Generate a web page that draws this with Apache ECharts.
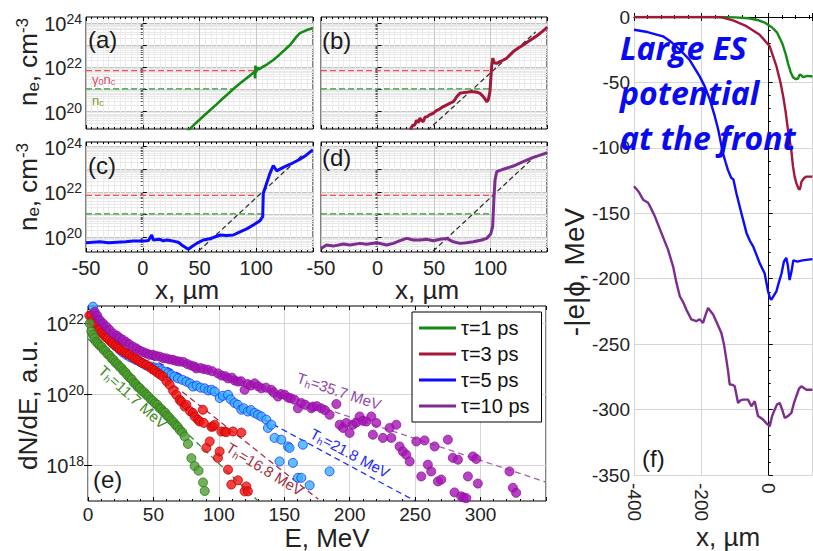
<!DOCTYPE html>
<html>
<head>
<meta charset="utf-8">
<script src="https://cdn.jsdelivr.net/npm/echarts@6/dist/echarts.min.js"></script>
<style>
html, body { margin: 0; padding: 0; background: #fff; }
#chart { width: 813px; height: 551px; }
</style>
</head>
<body>
<div id="chart"></div>
<script>
// (a)-(d): electron density profiles, x in um, value = log10(n_e / cm^-3)
const neA = [[38,19.05],[42,19.25],[46,19.45],[50,19.64],[55,19.87],[60,20.1],[65,20.33],[70,20.57],[75,20.8],[80,21.03],[85,21.25],[90,21.45],[95,21.65],[98.5,21.8],[99,21.5],[99.3,22.08],[99.8,21.78],[100.5,21.86],[101.5,22.02],[102,21.9],[105,22.0],[110,22.15],[115,22.33],[120,22.55],[125,22.78],[130,23.02],[135,23.35],[138.5,23.54],[144,23.67],[150,23.77]];
const neB = [[29,19.2],[31,19.38],[33,19.4],[34.5,19.62],[36,19.5],[37.6,19.71],[39,19.6],[40.5,19.55],[42,19.75],[44,19.78],[46,19.86],[49.4,19.93],[52,20.05],[55,20.12],[58.2,20.23],[61,20.3],[64,20.38],[67.1,20.45],[69,20.58],[70.1,20.68],[73,20.83],[76,20.86],[79,20.88],[81.9,20.9],[85,20.9],[88,20.88],[90.7,20.83],[93.6,20.68],[95.5,20.55],[96.6,20.45],[98,20.53],[99.5,20.9],[101,22.03],[102,22.41],[103.5,22.2],[105.5,22.18],[108.4,22.26],[111,22.32],[114.3,22.41],[117,22.55],[120.2,22.71],[125,22.88],[129,23.01],[133,23.15],[137.9,23.31],[142,23.46],[146,23.62],[150.3,23.81]];
const neC = [[-50,19.76],[-44,19.78],[-37.7,19.8],[-30,19.76],[-23,19.78],[-15,19.8],[-8.3,19.83],[0.5,19.83],[5,19.86],[7.9,20.1],[9.3,19.88],[15.2,19.91],[18,19.84],[21.1,19.88],[24,19.86],[26.9,19.83],[31.3,19.78],[35.7,19.61],[40.1,19.47],[43.1,19.58],[47.5,19.73],[53.3,19.88],[58,19.92],[62.2,19.99],[68.1,20.1],[74,20.08],[79.8,20.1],[85.7,20.24],[92,20.38],[97.4,20.54],[103.3,20.73],[105.7,20.91],[106.2,21.94],[107.7,22.16],[112.1,22.82],[115,23.16],[118,22.93],[123.8,23.08],[130,23.22],[138.5,23.44],[144,23.62],[149.7,23.85]];
const neD = [[-50,19.51],[-45,19.66],[-39.1,19.61],[-30.3,19.7],[-24.3,19.66],[-15.5,19.73],[-9.6,19.69],[-0.7,19.76],[8.1,19.66],[14,19.73],[19.9,19.85],[25.8,19.95],[31.7,19.88],[37.6,19.88],[43.5,19.91],[49.4,19.85],[55.3,19.91],[61.2,19.95],[67.1,19.8],[73,19.73],[78.9,19.76],[84.8,19.8],[92.2,19.88],[96.6,19.95],[100.2,20.14],[101.9,20.47],[103.1,21.79],[104,22.52],[105.5,22.89],[111.4,23.0],[120.2,23.14],[129,23.33],[137.9,23.52],[144,23.62],[150.3,23.73]];
const refProfile = [[44,19.15],[140,23.6]];
const gammaNc = 21.85;
const nc = 21.03;
// x where the dashed gamma0*nc and nc lines stop, panels a-d
const critEnds = [[99,80],[100,100],[101,106],[103,101]];

// (e): spectra, E in MeV, value = log10(dN/dE)
const spec1 = [[1.3,21.98],[2.5,21.76],[3.8,21.66],[5,21.57],[6.3,21.47],[7.6,21.42],[9,21.36],[10.5,21.32],[12,21.24],[13.5,21.2],[15,21.12],[16.6,21.08],[18,21.0],[19.5,20.96],[21,20.88],[22.6,20.84],[24,20.77],[25.6,20.73],[27,20.65],[28.6,20.61],[30,20.53],[31.9,20.46],[33.5,20.41],[35,20.32],[36.6,20.28],[38,20.2],[39.6,20.17],[41.2,20.09],[43,20.05],[44.6,19.98],[46.2,19.93],[48,19.85],[49.6,19.81],[51.2,19.74],[53,19.7],[54.6,19.61],[56,19.58],[57.5,19.51],[59,19.48],[60.6,19.39],[62.2,19.34],[63.8,19.26],[65.4,19.21],[67,19.13],[68.6,19.08],[70.2,18.99],[72,18.93],[73.9,18.81],[76.4,18.6],[79,18.2],[81.5,17.98],[84.5,17.85],[87.9,17.52],[89.2,17.28]];
const spec3 = [[1,22.2],[2.6,22.21],[3.5,22.05],[5,21.98],[6.5,21.9],[8,21.82],[9,21.8],[10.5,21.72],[12,21.66],[13.5,21.6],[15,21.56],[16.5,21.5],[18,21.45],[19,21.42],[21,21.36],[22.5,21.31],[24,21.27],[26,21.22],[28,21.17],[30,21.13],[31.9,21.1],[34,21.04],[36,21.0],[38,20.95],[40,20.9],[42,20.86],[44.6,20.82],[47,20.76],[49,20.7],[51,20.66],[53,20.6],[55,20.55],[57.3,20.49],[60,20.36],[62.4,20.26],[65,20.1],[67.5,19.98],[70,19.84],[71.3,19.79],[73.9,19.65],[75.2,19.7],[78,19.52],[80.2,19.47],[81.5,19.37],[84,19.28],[85.3,19.23],[87.8,19.56],[88.5,19.19],[90.4,18.49],[93,18.67],[94.3,19.08],[95.5,19.09],[96.8,19.14],[99.3,18.21],[100.6,18.39],[101.9,18.95],[104.4,18.95],[105.7,18.93],[107,17.88],[109.5,17.46],[110.8,18.95],[114.6,17.58],[117.2,18.92],[119.7,17.27],[121,17.41],[122.2,17.27]];
const spec5 = [[3.8,22.45],[5.1,22.26],[6.4,22.12],[8,22.05],[10.2,21.98],[12,21.86],[14.1,21.75],[16.6,21.61],[19.1,21.45],[21,21.35],[24.2,21.24],[26.5,21.17],[29.3,21.1],[31.9,21.04],[34.4,21.0],[37,20.95],[39.5,20.91],[42,20.86],[44.6,20.8],[48.4,20.77],[51,20.74],[53.5,20.72],[56,20.67],[58.6,20.63],[61,20.58],[63.7,20.54],[66,20.49],[68.8,20.44],[72,20.4],[75.2,20.35],[78,20.3],[80.2,20.21],[83,20.24],[86,20.18],[89.2,20.16],[92,20.1],[94.5,20.12],[96.8,20.07],[100.6,19.89],[103,19.95],[107,19.98],[109,19.85],[112,19.75],[114.5,19.7],[117.2,19.56],[119,19.6],[122.2,19.51],[124.5,19.55],[127.3,19.47],[130,19.42],[132.5,19.37],[136.3,19.28],[137.5,19.05],[140.1,19.14],[142.6,18.77],[146.4,18.11],[147.7,18.72],[152.8,18.53],[154,18.49],[156.6,18.07],[160.4,17.65],[163,17.65],[164.2,18.58],[169.4,17.44],[184.6,17.83]];
const spec10 = [[5.1,22.31],[7,22.2],[9,22.08],[11.5,21.98],[14.1,21.89],[16.5,21.8],[19.1,21.7],[22,21.64],[24,21.58],[26.7,21.52],[29,21.46],[31.5,21.4],[34.4,21.33],[37,21.28],[39.5,21.22],[42,21.18],[44.6,21.14],[47,21.1],[49.5,21.1],[52,21.07],[54.8,21.05],[57.5,21.01],[60,21.0],[62.5,20.97],[65,20.96],[67.5,20.93],[70,20.91],[73,20.9],[76,20.84],[79,20.8],[81.5,20.77],[82.8,20.72],[86,20.73],[88.5,20.7],[91.7,20.68],[95,20.64],[99.3,20.58],[102,20.52],[105,20.5],[107,20.44],[110,20.46],[112,20.38],[114.6,20.35],[117,20.36],[119.7,20.12],[122,20.28],[124.5,20.24],[127.3,20.3],[130,20.22],[132.5,20.16],[136,20.18],[140.1,20.12],[142,20.04],[145.2,19.93],[147.5,20.0],[150.3,19.98],[153,19.9],[155,19.88],[157.9,19.84],[160.4,19.6],[163,19.75],[166,19.7],[170.7,19.6],[171.9,19.65],[175,19.66],[178.3,19.6],[181,19.55],[184.6,19.42],[189.8,19.72],[192.3,19.14],[194.9,19.05],[197.4,19.19],[199.9,18.91],[202.4,19.14],[205,19.2],[207.6,19.37],[210,19.25],[212.7,19.23],[216.5,19.37],[217.7,18.86],[220.3,19.19],[225.4,18.77],[230.5,19.05],[231.8,18.77],[235.6,19.14],[238.1,18.53],[240.6,18.39],[243.2,18.3],[245.8,18.11],[250.9,18.67],[254.7,17.69],[257.2,18.7],[259.7,18.02],[262.3,17.83],[264.9,18.53],[267.4,17.55],[270,17.6],[275,18.72],[278.8,18.21],[280.1,17.24],[282.7,18.16],[285.2,17.13],[287,17.1],[289.1,17.08],[290.3,17.69],[294.1,18.25],[296.7,18.18],[297.9,17.49],[322.1,17.83],[324.7,17.37],[327.2,17.23]];
const fit1 = [[0,21.55],[130,17.0]];
const fit3 = [[0,22.15],[176,17.05]];
const fit5 = [[0,21.95],[250,17.0]];
const fit10 = [[0,21.8],[350,17.53]];

// (f): potential, x in um, -|e|phi in MeV
const phi1 = [[-400,0],[-150,0],[-100,-0.3],[-60,-1],[-30,-2.5],[-10,-4.5],[10,-8],[25,-12],[40,-20],[50,-28],[58,-36],[65,-42],[72,-46],[80,-47.5],[87,-47],[92,-44],[97,-44.5],[102,-46],[115,-45],[130,-45.5]];
const phi3 = [[-400,0],[-160,0],[-140,-0.3],[-106,-2.6],[-66,-7],[-27,-13.5],[3,-22.4],[23,-37.8],[35,-50],[43,-60.7],[50,-72],[57,-86],[67,-101.5],[72,-114],[77,-122],[82,-127],[88,-131],[92,-132],[95,-129],[97,-126],[105,-123],[112,-122],[130,-122]];
const phi5 = [[-400,-9.7],[-360,-11.5],[-314,-14.8],[-290,-19],[-264,-25],[-235,-32.7],[-205,-45.4],[-190,-53],[-175,-63],[-160,-76],[-150,-86],[-136,-104],[-128,-111],[-121,-117],[-111,-123],[-105,-124],[-96,-134.7],[-86,-145],[-76,-155],[-66,-165],[-56,-171],[-46,-175.5],[-36,-182],[-27,-188],[-12,-196],[-2,-209.6],[4,-215],[8,-216],[15,-213],[22.8,-209.6],[30,-203],[38,-196],[45,-187],[52,-184],[57,-190],[62,-201],[68,-194],[73,-186],[85,-187],[100,-186],[130,-185]];
const phi10 = [[-400,-129.4],[-385,-134],[-373,-139.6],[-358,-142],[-348,-147],[-338.6,-152],[-318.8,-165],[-299,-177.8],[-284,-190.5],[-274,-203],[-264,-213.4],[-254,-218],[-244.6,-223.6],[-230,-231],[-215,-232.5],[-205,-231],[-195,-233.8],[-188,-228],[-180,-222.3],[-172,-225],[-165,-227.4],[-150,-236],[-140.6,-241.4],[-133,-250],[-125.7,-261.8],[-120,-272],[-115.8,-280.9],[-108,-281],[-101,-282.2],[-91,-294.9],[-84,-293],[-76,-292.4],[-61.4,-292.4],[-51.5,-297.5],[-41.6,-293.6],[-31.7,-305],[-20,-307],[-11.9,-309],[-5,-311],[3,-312.8],[10,-305],[17.8,-300],[25,-296],[32.7,-295],[40,-300],[47.5,-306.4],[57,-305],[67.3,-302.5],[75,-295],[82,-289.8],[90,-284],[97,-282.2],[112,-284.8],[130,-284.8]];

const legendNames = ['τ=1 ps', 'τ=3 ps', 'τ=5 ps', 'τ=10 ps'];
const lineColors = ['#168a16', '#a3173a', '#0b0bff', '#7d2d90'];

const FONT = '"Liberation Sans", Arial, Helvetica, sans-serif';
const chart = echarts.init(document.getElementById('chart'), null, { renderer: 'svg' });

const grid = [
  { left: 86, top: 17, width: 227, height: 112 },   // a
  { left: 321, top: 17, width: 226, height: 112 },  // b
  { left: 86, top: 142, width: 227, height: 110 },  // c
  { left: 321, top: 142, width: 226, height: 110 }, // d
  { left: 88, top: 306, width: 458, height: 195 },  // e
  { left: 634, top: 17, width: 178.5, height: 458, show: false }, // f, runs off the right edge
].map(g => Object.assign({ show: true, borderColor: '#000', borderWidth: 1, containLabel: false, outerBoundsMode: 'none' }, g));

const xAxis = [];
const yAxis = [];
const supRich = {
  b: { fontSize: 20, lineHeight: 22, verticalAlign: 'bottom', fontFamily: FONT, color: '#222' },
  s: { fontSize: 14, lineHeight: 14, verticalAlign: 'top', padding: [0, 0, 14, 0], fontFamily: FONT, color: '#222' },
};
const tick = { show: true, inside: true, length: 4, lineStyle: { color: '#000', width: 1 } };

function addX(gi, o) {
  const common = {
    gridIndex: gi, type: 'value', min: o.min, max: o.max, interval: o.interval,
    axisLine: { show: !!o.axisLine, lineStyle: { color: '#000', width: 1 } }, axisTick: tick,
    minorTick: { show: true, splitNumber: o.minor, length: 2, lineStyle: { color: '#000' } },
  };
  xAxis.push(Object.assign({}, common, {
    position: 'bottom',
    axisLabel: o.label ? Object.assign({ fontFamily: FONT, fontSize: 20, color: '#222', margin: 6 }, o.label) : { show: false },
    splitLine: { show: true, lineStyle: { color: o.gridColor || '#c8c8c8' } },
    minorSplitLine: { show: !!o.minorGrid, lineStyle: { color: '#ebebeb' } },
  }));
  xAxis.push(Object.assign({}, common, {
    position: 'top', axisLabel: { show: false }, splitLine: { show: false },
  }));
}

// log panels: values are decades, ticks at whole decades
function addLogY(gi, min, max, showLabels) {
  const minorVals = [];
  for (let n = 19; n <= 24; n++) {
    for (let k = 2; k <= 9; k++) {
      const v = n + Math.log10(k);
      if (v > min && v < max) minorVals.push(v);
    }
  }
  yAxis.push({
    gridIndex: gi, type: 'value', min: min, max: max, position: 'left',
    axisLine: { show: false },
    axisTick: Object.assign({ customValues: [20, 21, 22, 23, 24] }, tick),
    axisLabel: {
      show: showLabels, customValues: [20, 22, 24], margin: 4,
      formatter: v => '{b|10}{s|' + v + '}', rich: supRich,
    },
    splitLine: { show: true, lineStyle: { color: '#c4c4c4' } },
  });
  yAxis.push({
    gridIndex: gi, type: 'value', min: min, max: max, position: 'right',
    axisLine: { show: false },
    axisTick: { show: true, inside: true, length: 2, customValues: minorVals, lineStyle: { color: '#555' } },
    axisLabel: { show: false },
    splitLine: { show: true, lineStyle: { color: '#e8e8e8' } },
  });
}

// panels a-d
addX(0, { min: -50, max: 150, interval: 50, minor: 10, minorGrid: true });
addLogY(0, 19.22, 24.27, true);
addX(1, { min: -50, max: 150, interval: 50, minor: 10, minorGrid: true });
addLogY(1, 19.22, 24.27, false);
addX(2, { min: -50, max: 150, interval: 50, minor: 10, minorGrid: true, label: { formatter: v => v >= 150 ? '' : String(v) } });
addLogY(2, 19.35, 24.2, true);
addX(3, { min: -50, max: 150, interval: 50, minor: 10, minorGrid: true, label: { formatter: v => v >= 150 ? '' : String(v) } });
addLogY(3, 19.35, 24.2, false);

// panel e
addX(4, { min: 0, max: 350, interval: 50, minor: 5, gridColor: '#d6d6d6', label: { fontSize: 19, margin: 4, formatter: v => v > 300 ? '' : String(v) } });
yAxis.push({
  gridIndex: 4, type: 'value', min: 17, max: 22.47, position: 'left',
  axisLine: { show: false },
  axisTick: Object.assign({ customValues: [18, 20, 22] }, tick),
  axisLabel: { customValues: [18, 20, 22], margin: 4, formatter: v => '{b|10}{s|' + v + '}', rich: supRich },
  splitLine: { show: true, lineStyle: { color: '#d6d6d6' } },
});
yAxis.push({
  gridIndex: 4, type: 'value', min: 17, max: 22.47, position: 'right',
  axisLine: { show: false },
  axisTick: Object.assign({ customValues: [18, 20, 22] }, tick),
  axisLabel: { show: false }, splitLine: { show: false },
});

// panel f
addX(5, { min: -400, max: 130, interval: 200, minor: 5, gridColor: '#d6d6d6', axisLine: true, label: { fontSize: 19, rotate: -90, margin: 8, formatter: v => v > 100 ? '' : String(v) } });
['left', 'right'].forEach(pos => {
  yAxis.push({
    gridIndex: 5, type: 'value', min: -350, max: 0, interval: 50, position: pos,
    axisLine: { show: pos === 'left', lineStyle: { color: '#000', width: 1 } },
    axisTick: { show: pos === 'left', inside: true, length: 4, lineStyle: { color: '#000' } },
    minorTick: { show: pos === 'left', splitNumber: 5, length: 2, lineStyle: { color: '#000' } },
    axisLabel: pos === 'left' ? { fontFamily: FONT, fontSize: 19, color: '#222', margin: 4 } : { show: false },
    splitLine: { show: pos === 'left', lineStyle: { color: '#d6d6d6' } },
  });
});

const series = [];
function line(ai, data, color, width, dash, z) {
  return {
    type: 'line', xAxisIndex: ai, yAxisIndex: ai, data: data, symbol: 'none', silent: true,
    lineStyle: { color: color, width: width, type: dash || 'solid' }, z: z || 2,
  };
}

[neA, neB, neC, neD].forEach((d, i) => {
  const ai = 2 * i;
  series.push(line(ai, [[-50, gammaNc], [critEnds[i][0], gammaNc]], '#ff4b4b', 1.3, [6, 3]));
  series.push(line(ai, [[-50, nc], [critEnds[i][1], nc]], '#33a033', 1.3, [6, 3]));
  if (i > 0) series.push(line(ai, refProfile, '#333', 1.3, [5, 3]));
  series.push(line(ai, d, lineColors[i], i === 0 ? 2.6 : 3, 'solid', 3));
});

const fitColors = ['#2f8f2f', '#b03048', '#1a2cff', '#a85cb8'];
[fit1, fit3, fit5, fit10].forEach((d, i) => series.push(line(8, d, fitColors[i], 1.3, [6, 4])));

const specStyle = [
  { data: spec5, fill: '#3aaeff', edge: '#1438ff' },
  { data: spec3, fill: '#ee1414', edge: '#c00000' },
  { data: spec10, fill: '#a514b4', edge: '#8c0f9c' },
  { data: spec1, fill: '#4f9d2f', edge: '#2c771a' },
];
specStyle.forEach(s => series.push({
  type: 'scatter', xAxisIndex: 8, yAxisIndex: 8, data: s.data, symbolSize: 9, silent: true,
  itemStyle: { color: s.fill, borderColor: s.edge, borderWidth: 1 }, z: 3,
}));

[phi1, phi3, phi5, phi10].forEach((d, i) => {
  const s = line(10, d, lineColors[i], 2.4, 'solid', 3);
  s.name = legendNames[i];
  s.itemStyle = { color: lineColors[i] };
  series.push(s);
});

function txt(x, y, text, o) {
  return {
    type: 'text', x: x, y: y, rotation: (o && o.rot) || 0, silent: true, z: 100,
    style: Object.assign({
      text: text, fontFamily: FONT, fontSize: 24, fill: '#1a1a1a',
      align: 'left', verticalAlign: 'middle',
    }, o && o.style),
  };
}
const nameRich = {
  sub: { fontSize: 17, lineHeight: 17, verticalAlign: 'bottom', padding: [12, 0, 0, 0], fontFamily: FONT, fill: '#222' },
  sup: { fontSize: 17, lineHeight: 17, verticalAlign: 'top', padding: [0, 0, 12, 0], fontFamily: FONT, fill: '#222' },
};
const nameStyle = { fontSize: 26, lineHeight: 28, align: 'center', fill: '#222', rich: nameRich };
const plainName = { fontSize: 26, lineHeight: 22, align: 'center', fill: '#222' };
const thRich = { h: { fontSize: 10, lineHeight: 10, verticalAlign: 'bottom', padding: [9, 0, 0, 0] } };

const graphic = [
  txt(88, 39, '(a)'), txt(322, 40, '(b)'), txt(88, 165, '(c)'), txt(322, 157, '(d)'),
  txt(93, 479, '(e)'), txt(642, 458, '(f)'),
  txt(92, 79, 'γ{s|0}n{s|c}', { style: { fontSize: 13, lineHeight: 14, fill: '#d8506a', rich: { s: { fontSize: 9, lineHeight: 9, verticalAlign: 'bottom', padding: [6, 0, 0, 0], fill: '#d8506a' } } } }),
  txt(92, 100, 'n{s|c}', { style: { fontSize: 13, lineHeight: 14, fill: '#7a9a1e', rich: { s: { fontSize: 9, lineHeight: 9, verticalAlign: 'bottom', padding: [6, 0, 0, 0], fill: '#7a9a1e' } } } }),
  txt(28, 62, 'n{sub|e}, cm{sup|-3}', { rot: Math.PI / 2, style: nameStyle }),
  txt(28, 187, 'n{sub|e}, cm{sup|-3}', { rot: Math.PI / 2, style: nameStyle }),
  txt(187, 290, 'x, µm', { style: plainName }),
  txt(427, 290, 'x, µm', { style: plainName }),
  txt(28, 405, 'dN/dE, a.u.', { rot: Math.PI / 2, style: nameStyle }),
  txt(327, 538, 'E, MeV', { style: Object.assign({}, plainName, { lineHeight: 20 }) }),
  txt(574, 272, '-|e|ϕ, MeV', { rot: Math.PI / 2, style: { fontSize: 28, lineHeight: 28, align: 'center', fill: '#222' } }),
  txt(728, 537, 'x, µm', { style: plainName }),
  txt(133, 397, 'T{h|h}=11.7 MeV', { rot: -42 * Math.PI / 180, style: { fontSize: 15, lineHeight: 18, align: 'center', fill: '#3f8a1c', rich: thRich } }),
  txt(265, 469, 'T{h|h}=16.8 MeV', { rot: -31.5 * Math.PI / 180, style: { fontSize: 15, lineHeight: 18, align: 'center', fill: '#a33040', rich: thRich } }),
  txt(350, 453, 'T{h|h}=21.8 MeV', { rot: -28 * Math.PI / 180, style: { fontSize: 15, lineHeight: 18, align: 'center', fill: '#1f2cf0', rich: thRich } }),
  txt(339, 391, 'T{h|h}=35.7 MeV', { rot: -18.4 * Math.PI / 180, style: { fontSize: 15, lineHeight: 18, align: 'center', fill: '#9048a8', rich: thRich } }),
  txt(620, 25, 'Large ES\npotential\nat the front', { style: { fontFamily: '"Open Sans", sans-serif', fontSize: 32, fontWeight: 'bold', fontStyle: 'italic', lineHeight: 45, fill: '#0a0af0', verticalAlign: 'top' } }),
];

chart.setOption({
  animation: false,
  backgroundColor: '#fff',
  grid: grid,
  xAxis: xAxis,
  yAxis: yAxis,
  legend: {
    data: legendNames, left: 412, top: 312, orient: 'vertical', icon: 'rect',
    itemWidth: 37, itemHeight: 3, itemGap: 6, padding: [6, 12, 6, 7],
    borderColor: '#000', borderWidth: 1, backgroundColor: '#fff', selectedMode: false,
    textStyle: { fontFamily: FONT, fontSize: 20, color: '#111' },
  },
  graphic: graphic,
  series: series,
});
</script>
</body>
</html>
